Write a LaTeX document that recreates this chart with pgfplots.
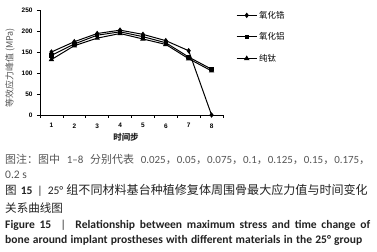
\documentclass[border=0pt]{standalone}
\usepackage{pgfplots}
\pgfplotsset{compat=1.18}
\usepackage{fontspec}
\setmainfont{Carlito}
\newfontfamily\cjk{Noto Sans CJK SC}
\newfontfamily\arialf{Liberation Sans}
\definecolor{capgray}{HTML}{555555}
\definecolor{captext}{HTML}{222222}
\begin{document}
\begin{tikzpicture}[x=1bp,y=1bp]
\path[use as bounding box] (0,0) rectangle (377,252);
\begin{axis}[
  at={(40bp,137bp)}, anchor=south west,
  width=183bp, height=105bp, scale only axis,
  xmin=0.5, xmax=8.5, ymin=0, ymax=250,
  axis x line*=bottom, axis y line*=left,
  axis line style={black, line width=0.8pt},
  xtick={0.5,1.5,...,8.5}, xticklabels={1,2,3,4,5,6,7,8},
  x tick label as interval,
  ytick={0,50,100,150,200,250},
  tick align=outside, major tick length=3bp,
  tick style={black, line width=0.6pt},
  /pgf/number format/assume math mode=true,
  tick label style={font=\arialf\bfseries\fontsize{6.5}{7}\selectfont},
  yticklabel style={xshift=-1bp},
  xticklabel style={yshift=-2bp},
  legend style={at={(1.055,1.03)}, anchor=north west, draw=none, fill=none,
    font=\cjk\fontsize{8.5}{10}\selectfont, row sep=9bp},
  legend cell align=left,
  legend image code/.code={\draw[mark repeat=2,mark phase=2,#1] plot coordinates {(0bp,0bp) (10bp,0bp) (20bp,0bp)};},
]
\addplot[black, line width=1pt, mark=diamond*, mark size=2] coordinates {(1,150)(2,174.5)(3,194)(4,202)(5,192)(6,177)(7,153)(8,0)};
\addlegendentry{氧化锆}
\addplot[black, line width=1pt, mark=square*, mark size=1.7] coordinates {(1,142)(2,169)(3,190)(4,198)(5,186.5)(6,172)(7,138)(8,109)};
\addlegendentry{氧化铝}
\addplot[black, line width=1pt, mark=triangle*, mark size=2.2] coordinates {(1,132)(2,165)(3,183)(4,194)(5,181)(6,168)(7,134)(8,105)};
\addlegendentry{纯钛}
\end{axis}
\node[rotate=90, font=\cjk\fontsize{9}{10}\selectfont, text=capgray] at (10,184) {等效应力峰值 (MPa)};
\node[font=\cjk\bfseries\fontsize{8.5}{9}\selectfont, text=captext] at (126,115) {时间步};
\node[anchor=west, inner sep=0pt, text=capgray, font=\fontsize{11}{13}\selectfont] at (5,93) {\makebox[365bp][s]{{\cjk 图注：图中} 1–8 {\cjk 分别代表} 0.025{\cjk ，}0.05{\cjk ，}0.075{\cjk ，}0.1{\cjk ，}0.125{\cjk ，}0.15{\cjk ，}0.175{\cjk ，}}};
\node[anchor=west, inner sep=0pt, text=capgray, font=\fontsize{11.6}{13}\selectfont] at (5,77) {0.2 s};
\node[anchor=west, inner sep=0pt, text=captext, font=\fontsize{11.6}{13}\selectfont] at (5,62) {{\cjk 图}\hspace{4bp}\textbf{15}\hspace{5bp}|\hspace{5bp}25°\hspace{3bp}{\cjk\fontsize{12.1}{13}\selectfont 组不同材料基台种植修复体周围骨最大应力值与时间变化}};
\node[anchor=west, inner sep=0pt, text=captext, font=\cjk\fontsize{11.6}{13}\selectfont] at (5,44) {关系曲线图};
\node[anchor=west, inner sep=0pt, text=captext, font=\bfseries\fontsize{11.6}{13}\selectfont] at (5,27) {\makebox[365bp][s]{Figure 15 \ {\mdseries|} \ Relationship between maximum stress and time change of}};
\node[anchor=west, inner sep=0pt, text=captext, font=\bfseries\fontsize{11.6}{13}\selectfont] at (5,12) {\makebox[357bp][s]{bone around implant prostheses with different materials in the 25° group}};
\end{tikzpicture}
\end{document}
